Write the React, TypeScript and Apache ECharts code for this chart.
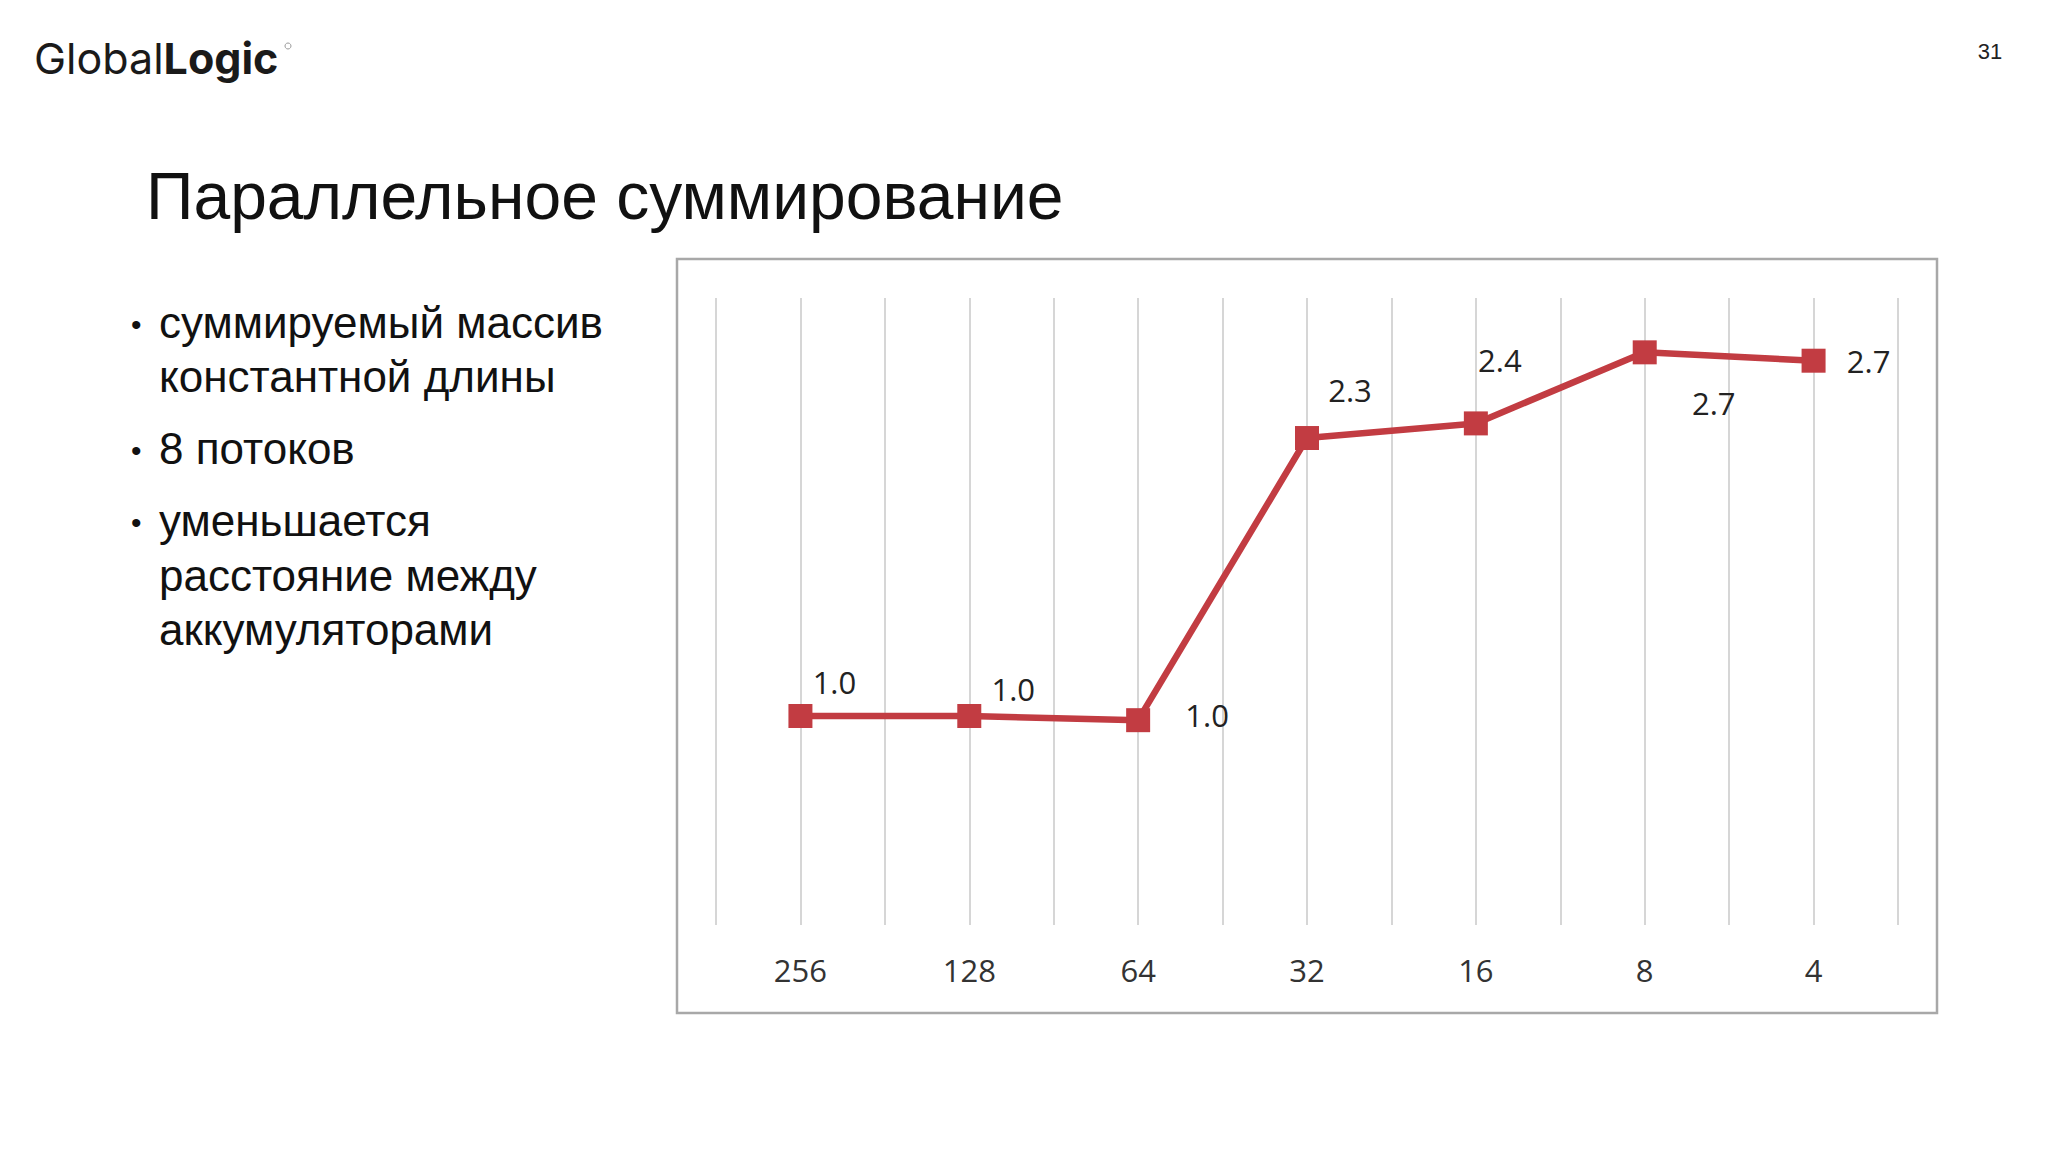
import React, { useEffect, useRef } from "react";
import * as echarts from "echarts";

const categories = ["256", "128", "64", "32", "16", "8", "4"];
const speedup = [1.0, 1.0, 0.98, 2.33, 2.4, 2.74, 2.7];
const labelOffsets = [
  [34, -34],
  [44, -27],
  [69, -5],
  [43, -48],
  [24, -63],
  [69, 51],
  [55, 0],
];
const titleText = "Параллельное суммирование";
const bullets = [
  ["суммируемый массив", "константной длины"],
  ["8 потоков"],
  ["уменьшается", "расстояние между", "аккумуляторами"],
];
const pageNumber = "31";

const RED = "#c23c42";
const SANS = "'Liberation Sans', Arial, sans-serif";
const CHART_FONT = "'Open Sans', 'Noto Sans', sans-serif";

export default function App() {
  const ref = useRef<HTMLDivElement>(null);

  useEffect(() => {
    if (!ref.current) return;
    const chart = echarts.init(ref.current, undefined, { renderer: "svg" });

    const graphics: any[] = [];
    // logo
    graphics.push({
      type: "text",
      left: 34,
      top: 36,
      style: {
        text: "{a|Global}{b|Logic}",
        rich: {
          a: { fontFamily: "Inter, 'Open Sans', sans-serif", fontSize: 43, fontWeight: 400, fill: "#1a1a1a" },
          b: { fontFamily: "Inter, 'Open Sans', sans-serif", fontSize: 43, fontWeight: 700, fill: "#1a1a1a" },
        },
      },
    });
    graphics.push({
      type: "circle",
      shape: { cx: 288, cy: 46, r: 3 },
      style: { fill: "none", stroke: "#999", lineWidth: 1 },
    });
    // page number
    graphics.push({
      type: "text",
      x: 1990,
      y: 51,
      style: {
        text: pageNumber,
        fontFamily: SANS,
        fontSize: 22,
        fill: "#222",
        textAlign: "center",
        textVerticalAlign: "middle",
      },
    });
    // title
    graphics.push({
      type: "text",
      x: 146,
      y: 196,
      style: {
        text: titleText,
        fontFamily: SANS,
        fontSize: 66,
        fill: "#111",
        textVerticalAlign: "middle",
      },
    });
    // bullets
    const lineGap = 54.5;
    const bulletGap = 72;
    let y = 322;
    bullets.forEach((lines) => {
      graphics.push({
        type: "text",
        x: 131,
        y: y + 2,
        style: { text: "•", fontFamily: SANS, fontSize: 30, fill: "#111", textVerticalAlign: "middle" },
      });
      lines.forEach((ln, j) => {
        graphics.push({
          type: "text",
          x: 159,
          y: y + j * lineGap,
          style: { text: ln, fontFamily: SANS, fontSize: 44, fill: "#111", textVerticalAlign: "middle" },
        });
      });
      y += (lines.length - 1) * lineGap + bulletGap;
    });
    // chart frame
    graphics.push({
      type: "rect",
      shape: { x: 677, y: 259, width: 1260, height: 754 },
      style: { fill: "#ffffff", stroke: "#a8a8a8", lineWidth: 2.5 },
      z: -10,
      zlevel: 0,
    });

    chart.setOption({
      animation: false,
      backgroundColor: "#ffffff",
      graphic: { elements: graphics },
      grid: { left: 716, right: 150, top: 298, bottom: 227 },
      xAxis: [
        {
          type: "category",
          data: categories,
          boundaryGap: true,
          axisLine: { show: false },
          axisTick: { show: false },
          splitLine: { show: false },
          axisLabel: {
            margin: 29,
            fontFamily: CHART_FONT,
            fontSize: 31,
            color: "#333",
          },
        },
        {
          type: "value",
          min: 0,
          max: 14,
          interval: 1,
          position: "bottom",
          axisLine: { show: false },
          axisTick: { show: false },
          axisLabel: { show: false },
          splitLine: { show: true, lineStyle: { color: "#c9c9c9", width: 1.5 } },
        },
      ],
      yAxis: {
        type: "value",
        min: 0,
        max: 3,
        show: false,
        splitLine: { show: false },
      },
      series: [
        {
          type: "line",
          xAxisIndex: 0,
          data: speedup.map((v, i) => ({
            value: v,
            label: { offset: labelOffsets[i] },
          })),
          symbol: "rect",
          symbolSize: 24,
          itemStyle: { color: RED },
          lineStyle: { color: RED, width: 6.5 },
          label: {
            show: true,
            position: "inside",
            formatter: (p: any) => Number(p.value).toFixed(1),
            fontFamily: CHART_FONT,
            fontSize: 31,
            color: "#222",
          },
          z: 5,
        },
      ],
    });

    return () => chart.dispose();
  }, []);

  return (
    <div
      ref={ref}
      style={{ position: "fixed", left: 0, top: 0, width: 2048, height: 1152, background: "#fff" }}
    />
  );
}
